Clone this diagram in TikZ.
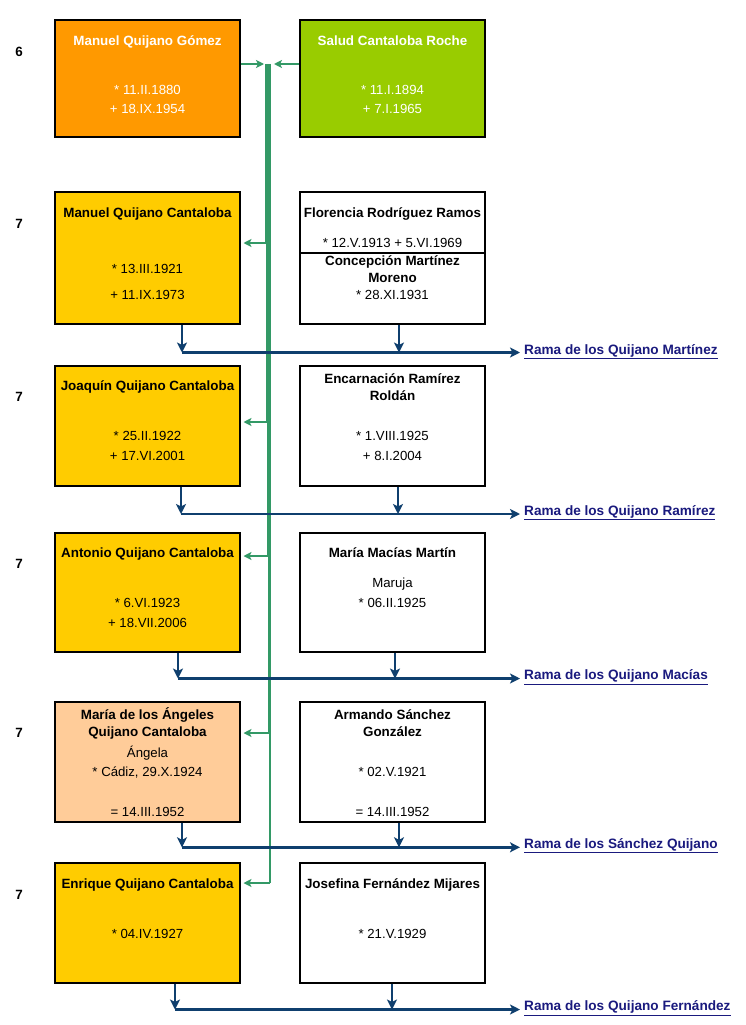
\documentclass[tikz,border=0pt]{standalone}
\usepackage{fontspec}
\setmainfont{Liberation Sans}
\usetikzlibrary{arrows.meta}
\definecolor{orangeb}{HTML}{FF9900}
\definecolor{greenb}{HTML}{99CC00}
\definecolor{yellowb}{HTML}{FFCC00}
\definecolor{peachb}{HTML}{FFCC99}
\definecolor{trunkc}{HTML}{339966}
\definecolor{navyc}{HTML}{0F3F6E}
\definecolor{linkc}{HTML}{1A1A7E}
\begin{document}
\begin{tikzpicture}[x=1pt,y=-1pt,
 pbox/.style={draw=black,line width=2pt,minimum width=185pt,inner sep=0pt},
 nm/.style={font=\fontsize{13.4}{15}\selectfont\bfseries,inner sep=0pt,text height=9.5pt,text depth=0pt},
 dt/.style={font=\fontsize{13.2}{15}\selectfont,inner sep=0pt,text height=9.5pt,text depth=0pt},
 wt/.style={text=white},
 gen/.style={font=\fontsize{13.4}{15}\selectfont\bfseries,inner sep=0pt,text height=9.5pt,text depth=0pt},
 garrow/.style={draw=trunkc,line width=2pt,-{Stealth[length=8pt,width=8pt,inset=2pt]}},
 trunkline/.style={draw=trunkc,line width=2.2pt},
 barrow/.style={draw=navyc,line width=2.8pt,-{Stealth[length=10pt,width=10pt,inset=2.5pt]}},
 hline/.style={draw=navyc,line width=2.4pt,-{Stealth[length=10pt,width=10pt,inset=2.5pt]}},
 link/.style={font=\fontsize{13.6}{15}\selectfont\bfseries,text=linkc,inner sep=0pt,anchor=base west},
]
\useasboundingbox[fill=white] (0,0) rectangle (746,1025);

% generation numbers
\node[gen] (g1) at (19,51.5) {6};
\node[gen] (g2) at (19,224) {7};
\node[gen] (g3) at (19,397) {7};
\node[gen] (g4) at (19,564) {7};
\node[gen] (g5) at (19,733) {7};
\node[gen] (g6) at (19,895) {7};

% row 1
\node[pbox,fill=orangeb,minimum height=116.5pt] (b1L) at (147.5,78.3) {};
\node[pbox,fill=greenb,minimum height=116.5pt] (b1R) at (392.5,78.3) {};
\node[nm,wt] (t1La) at (147.5,40.3) {Manuel Quijano Gómez};
\node[dt,wt] (t1Lb) at (147.5,89.5) {* 11.II.1880};
\node[dt,wt] (t1Lc) at (147.5,108.3) {+ 18.IX.1954};
\node[nm,wt] (t1Ra) at (392.5,40.3) {Salud Cantaloba Roche};
\node[dt,wt] (t1Rb) at (392.5,89.5) {* 11.I.1894};
\node[dt,wt] (t1Rc) at (392.5,108.3) {+ 7.I.1965};

% row 2
\node[pbox,fill=yellowb,minimum height=132pt] (b2L) at (147.5,258.2) {};
\node[pbox,fill=white,minimum height=60.4pt] (b2Ra) at (392.5,222.5) {};
\node[pbox,fill=white,minimum height=71.3pt] (b2Rb) at (392.5,288.35) {};
\node[nm] (t2La) at (147.5,212.8) {Manuel Quijano Cantaloba};
\node[dt] (t2Lb) at (147.5,269) {* 13.III.1921};
\node[dt] (t2Lc) at (147.5,295) {+ 11.IX.1973};
\node[nm] (t2Ra) at (392.5,212.8) {Florencia Rodríguez Ramos};
\node[dt] (t2Rb) at (392.5,243) {* 12.V.1913 + 5.VI.1969};
\node[nm] (t2Rc) at (392.5,261) {Concepción Martínez};
\node[nm] (t2Rd) at (392.5,278) {Moreno};
\node[dt] (t2Re) at (392.5,295) {* 28.XI.1931};

% row 3
\node[pbox,fill=yellowb,minimum height=120pt] (b3L) at (147.5,426) {};
\node[pbox,fill=white,minimum height=120pt] (b3R) at (392.5,426) {};
\node[nm] (t3La) at (147.5,386) {Joaquín Quijano Cantaloba};
\node[dt] (t3Lb) at (147.5,436) {* 25.II.1922};
\node[dt] (t3Lc) at (147.5,456) {+ 17.VI.2001};
\node[nm] (t3Ra) at (392.5,379) {Encarnación Ramírez};
\node[nm] (t3Rb) at (392.5,396) {Roldán};
\node[dt] (t3Rc) at (392.5,436) {* 1.VIII.1925};
\node[dt] (t3Rd) at (392.5,456) {+ 8.I.2004};

% row 4
\node[pbox,fill=yellowb,minimum height=119pt] (b4L) at (147.5,592.5) {};
\node[pbox,fill=white,minimum height=119pt] (b4R) at (392.5,592.5) {};
\node[nm] (t4La) at (147.5,553) {Antonio Quijano Cantaloba};
\node[dt] (t4Lb) at (147.5,603) {* 6.VI.1923};
\node[dt] (t4Lc) at (147.5,623) {+ 18.VII.2006};
\node[nm] (t4Ra) at (392.5,553) {María Macías Martín};
\node[dt] (t4Rb) at (392.5,583) {Maruja};
\node[dt] (t4Rc) at (392.5,603) {* 06.II.1925};

% row 5
\node[pbox,fill=peachb,minimum height=119.4pt] (b5L) at (147.5,762) {};
\node[pbox,fill=white,minimum height=119.4pt] (b5R) at (392.5,762) {};
\node[nm] (t5La) at (147.5,715) {María de los Ángeles};
\node[nm] (t5Lb) at (147.5,731.5) {Quijano Cantaloba};
\node[dt] (t5Lc) at (147.5,752.5) {Ángela};
\node[dt] (t5Ld) at (147.5,772) {* Cádiz, 29.X.1924};
\node[dt] (t5Le) at (147.5,812) {= 14.III.1952};
\node[nm] (t5Ra) at (392.5,715) {Armando Sánchez};
\node[nm] (t5Rb) at (392.5,731.5) {González};
\node[dt] (t5Rc) at (392.5,772) {* 02.V.1921};
\node[dt] (t5Rd) at (392.5,812) {= 14.III.1952};

% row 6
\node[pbox,fill=yellowb,minimum height=119.4pt] (b6L) at (147.5,923) {};
\node[pbox,fill=white,minimum height=119.4pt] (b6R) at (392.5,923) {};
\node[nm] (t6La) at (147.5,883.3) {Enrique Quijano Cantaloba};
\node[dt] (t6Lb) at (147.5,933.3) {* 04.IV.1927};
\node[nm] (t6Ra) at (392.5,883.3) {Josefina Fernández Mijares};
\node[dt] (t6Rb) at (392.5,933.3) {* 21.V.1929};

% green trunk
\coordinate (jL) at (264,64);
\coordinate (jR) at (274,64);
\draw[garrow] (b1L.east |- jL) -- (jL);
\draw[garrow] (b1R.west |- jR) -- (jR);
\coordinate (c2) at (266,243);
\coordinate (c3) at (267,422);
\coordinate (c4) at (268,556);
\coordinate (c5) at (269,733);
\coordinate (c6) at (270,883);
\foreach \c in {c2,c3,c4,c5,c6}{
  \draw[trunkline] (\c |- jL) -- (\c);
}
\draw[garrow] (c2) -- ([xshift=2.5pt]b2L.east |- c2);
\draw[garrow] (c3) -- ([xshift=2.5pt]b3L.east |- c3);
\draw[garrow] (c4) -- ([xshift=2.5pt]b4L.east |- c4);
\draw[garrow] (c5) -- ([xshift=2.5pt]b5L.east |- c5);
\draw[garrow] (c6) -- ([xshift=2.5pt]b6L.east |- c6);

% blue branches
\coordinate (h2s) at (182,352.5); \coordinate (h2r) at (399,352.5); \coordinate (h2e) at (520,352.5);
\coordinate (h3s) at (181,514); \coordinate (h3r) at (398,514); \coordinate (h3e) at (520,514);
\coordinate (h4s) at (178,678.5); \coordinate (h4r) at (395,678.5); \coordinate (h4e) at (520,678.5);
\coordinate (h5s) at (182,847.3); \coordinate (h5r) at (399,847.3); \coordinate (h5e) at (520,847.3);
\coordinate (h6s) at (175,1009.5); \coordinate (h6r) at (392,1009.5); \coordinate (h6e) at (520,1009.5);

\draw[hline] (h2s) -- (h2e);
\draw[hline] (h3s) -- (h3e);
\draw[hline] (h4s) -- (h4e);
\draw[hline] (h5s) -- (h5e);
\draw[hline] (h6s) -- (h6e);

\draw[barrow] (b2L.south -| h2s) -- (h2s);
\draw[barrow] (b2Rb.south -| h2r) -- (h2r);
\draw[barrow] (b3L.south -| h3s) -- (h3s);
\draw[barrow] (b3R.south -| h3r) -- (h3r);
\draw[barrow] (b4L.south -| h4s) -- (h4s);
\draw[barrow] (b4R.south -| h4r) -- (h4r);
\draw[barrow] (b5L.south -| h5s) -- (h5s);
\draw[barrow] (b5R.south -| h5r) -- (h5r);
\draw[barrow] (b6L.south -| h6s) -- (h6s);
\draw[barrow] (b6R.south -| h6r) -- (h6r);

% links
\node[link] (l2) at ([xshift=4pt,yshift=-1.5pt]h2e) {\underline{Rama de los Quijano Martínez}};
\node[link] (l3) at ([xshift=4pt,yshift=-1pt]h3e) {\underline{Rama de los Quijano Ramírez}};
\node[link] (l4) at ([xshift=4pt,yshift=-1pt]h4e) {\underline{Rama de los Quijano Macías}};
\node[link] (l5) at ([xshift=4pt,yshift=-1pt]h5e) {\underline{Rama de los Sánchez Quijano}};
\node[link] (l6) at ([xshift=4pt,yshift=-1pt]h6e) {\underline{Rama de los Quijano Fernández}};
\end{tikzpicture}
\end{document}
